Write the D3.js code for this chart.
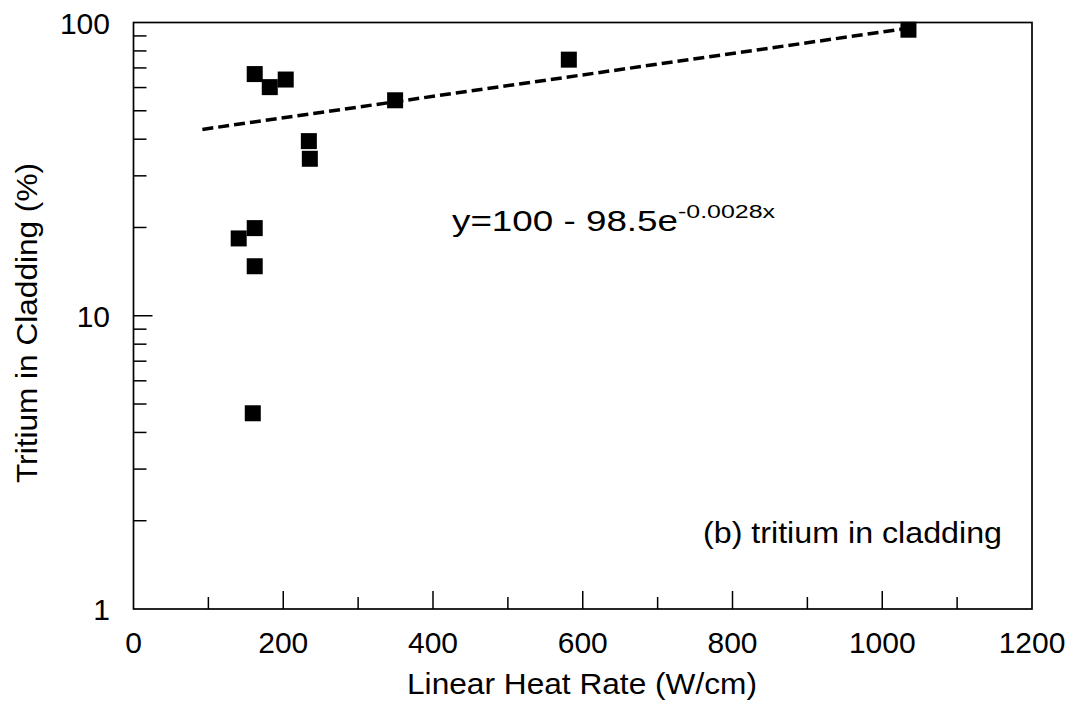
<!DOCTYPE html>
<html>
<head>
<meta charset="utf-8">
<script src="https://cdn.jsdelivr.net/npm/d3@7"></script>
<style>
  html, body { margin: 0; padding: 0; background: #fff; }
  svg { display: block; }
  text { font-family: "Liberation Sans", Arial, sans-serif; fill: #000; }
</style>
</head>
<body>
<svg id="chart" width="1075" height="727"></svg>
<script>
// ---- data ----
const heatRate = [161.9, 182, 203.3, 349.4, 234.2, 235.5, 140.5, 161.9, 161.9, 159.3, 581.4, 1035];
const tritium  = [66.7, 60.2, 63.9, 54.3, 39.4, 34.3, 18.35, 19.9, 14.75, 4.65, 74.7, 94.5];
const trendX = [92, 1035];
const trendY = [43.2, 95.6];
const xTicks = [0, 200, 400, 600, 800, 1000, 1200];
const xMinor = [100, 300, 500, 700, 900, 1100];
const yTicks = [1, 10, 100];
const yMinor = [2, 3, 4, 5, 6, 7, 8, 9, 20, 30, 40, 50, 60, 70, 80, 90];
const xTitle = "Linear Heat Rate (W/cm)";
const yTitle = "Tritium in Cladding (%)";
const eqBase = "y=100 - 98.5e";
const eqSup = "-0.0028x";
const panelLabel = "(b) tritium in cladding";

// ---- layout ----
const L = 133.5, R = 1032, T = 22.5, B = 609;
const svg = d3.select("#chart");
const x = d3.scaleLinear().domain([0, 1200]).range([L, R]);
const y = d3.scaleLog().domain([1, 100]).range([B, T]);

// frame
svg.append("rect").attr("x", L).attr("y", T).attr("width", R - L).attr("height", B - T)
  .attr("fill", "none").attr("stroke", "#000").attr("stroke-width", 1.7);

// x axis ticks (inward)
const gx = svg.append("g");
gx.selectAll("line.maj").data(xTicks.filter(d => d > 0 && d < 1200)).join("line")
  .attr("x1", d => x(d)).attr("x2", d => x(d)).attr("y1", B).attr("y2", B - 18)
  .attr("stroke", "#000").attr("stroke-width", 1.5);
gx.selectAll("line.min").data(xMinor).join("line")
  .attr("x1", d => x(d)).attr("x2", d => x(d)).attr("y1", B).attr("y2", B - 12)
  .attr("stroke", "#000").attr("stroke-width", 1.5);
gx.selectAll("text").data(xTicks).join("text")
  .attr("x", d => x(d)).attr("y", 653).attr("text-anchor", "middle")
  .attr("font-size", 30).text(d => d);

// y axis ticks (inward)
const gy = svg.append("g");
gy.selectAll("line.maj").data(yTicks.filter(d => d > 1 && d < 100)).join("line")
  .attr("x1", L).attr("x2", L + 19).attr("y1", d => y(d)).attr("y2", d => y(d))
  .attr("stroke", "#000").attr("stroke-width", 1.5);
gy.selectAll("line.min").data(yMinor).join("line")
  .attr("x1", L).attr("x2", L + 13).attr("y1", d => y(d)).attr("y2", d => y(d))
  .attr("stroke", "#000").attr("stroke-width", 1.5);
gy.selectAll("text").data(yTicks).join("text")
  .attr("x", 110).attr("y", d => y(d)).attr("dy", "0.38em").attr("text-anchor", "end")
  .attr("font-size", 30).text(d => d);

// trend line
const line = d3.line().x(d => x(d[0])).y(d => y(d[1]));
svg.append("path").datum(trendX.map((v, i) => [v, trendY[i]]))
  .attr("d", line).attr("fill", "none").attr("stroke", "#000")
  .attr("stroke-width", 3.5).attr("stroke-dasharray", "11,5");

// markers
const S = 16;
svg.append("g").selectAll("rect").data(heatRate.map((v, i) => [v, tritium[i]])).join("rect")
  .attr("x", d => x(d[0]) - S / 2).attr("y", d => y(d[1]) - S / 2)
  .attr("width", S).attr("height", S).attr("fill", "#000");

// titles
function fit(sel, w) {
  sel.attr("textLength", w).attr("lengthAdjust", "spacingAndGlyphs");
}
svg.append("text").attr("x", 582).attr("y", 694).attr("text-anchor", "middle")
  .attr("font-size", 30).text(xTitle).call(fit, 350);
svg.append("text").attr("transform", "translate(37,323) rotate(-90)").attr("text-anchor", "middle")
  .attr("font-size", 30).text(yTitle).call(fit, 320);

// equation
const eq = svg.append("text").attr("x", 452).attr("y", 231).attr("font-size", 30);
eq.append("tspan").text(eqBase).call(fit, 226);
eq.append("tspan").attr("font-size", 18).attr("dy", -13).text(eqSup).call(fit, 97);

// panel label
svg.append("text").attr("x", 1002).attr("y", 543).attr("text-anchor", "end")
  .attr("font-size", 30).text(panelLabel).call(fit, 299);
</script>
</body>
</html>
